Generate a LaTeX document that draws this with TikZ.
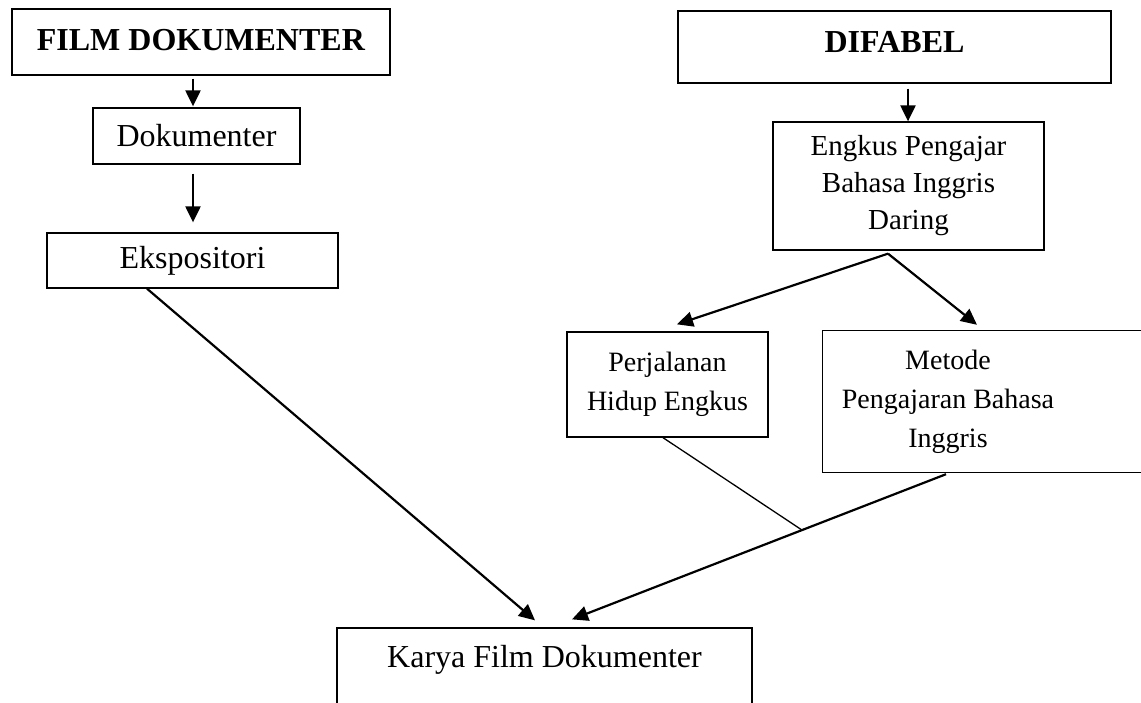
\documentclass[tikz,border=0pt]{standalone}
\usepackage{fontspec}
\setmainfont{Liberation Serif}
\usetikzlibrary{arrows.meta,calc}
\begin{document}
\begin{tikzpicture}[x=1pt,y=-1pt,
  box/.style={draw, line width=1.3pt, inner sep=0pt, align=center},
  arr/.style={line width=2.2pt, -{Triangle[length=16pt,width=15pt]}},
  thinline/.style={line width=1.3pt},
  big/.style={font=\fontsize{32}{37}\selectfont},
  mid/.style={font=\fontsize{29}{37}\selectfont},
  small/.style={font=\fontsize{28}{39}\selectfont}]
\useasboundingbox (0,0) rectangle (1141,702);
\clip (0,0) rectangle (1141,702);
\fill[white] (0,0) rectangle (1141,702);

\node[box,big,minimum width=378pt,minimum height=66pt,text height=22pt,text depth=6pt] (film) at (201,42) {\textbf{FILM DOKUMENTER}};
\node[box,big,minimum width=207pt,minimum height=56pt] (dok) at (196.5,136) {Dokumenter};
\node[box,big,minimum width=291pt,minimum height=55pt] (eks) at (192.5,260.5) {Ekspositori};
\node[box,big,minimum width=433pt,minimum height=72pt,text height=22pt,text depth=12pt] (dif) at (894.5,47) {\textbf{DIFABEL}};
\node[box,mid,minimum width=271pt,minimum height=128pt] (engkus) at (908.5,186) {Engkus Pengajar\\Bahasa Inggris\\Daring};
\node[box,small,minimum width=201pt,minimum height=105pt] (perj) at (667.5,384.5) {Perjalanan\\Hidup Engkus};
\node[small,align=center,inner sep=0pt,minimum width=250pt,minimum height=141pt] (met) at (948,401.5) {Metode\\Pengajaran Bahasa\\Inggris};
\draw[line width=1.3pt] (met.south west) rectangle ($(met.north east)+(220,0)$);
\node[box,big,minimum width=415pt,minimum height=90pt,text height=22pt,text depth=34pt] (karya) at (544.5,673) {Karya Film Dokumenter};

\draw[arr] ($(film.south)+(-8,3)$) -- ($(dok.north)+(-3.5,-1)$);
\draw[arr] ($(dok.south)+(-3.5,9)$) -- ($(eks.north)+(0.5,-10)$);
\draw[arr] ($(dif.south)+(13.5,5)$) -- ($(engkus.north)+(-0.5,0)$);
\coordinate (peak) at ($(engkus.south)+(-20.5,3)$);
\draw[arr] (peak) -- ($(perj.north)+(9.5,-7)$);
\draw[arr] (peak) -- ($(met.north)+(29,-6)$);
\draw[arr] ($(eks.south)+(-45.5,0)$) -- ($(karya.north)+(-9.5,-7)$);
\coordinate (msrc) at ($(met.south)+(-2,2)$);
\coordinate (ktip) at ($(karya.north)+(27.5,-8)$);
\coordinate (join) at ($(msrc)!0.385!(ktip)$);
\draw[arr] (msrc) -- (ktip);
\draw[thinline] ($(perj.south)+(-4.5,0)$) -- (join);
\end{tikzpicture}
\end{document}
